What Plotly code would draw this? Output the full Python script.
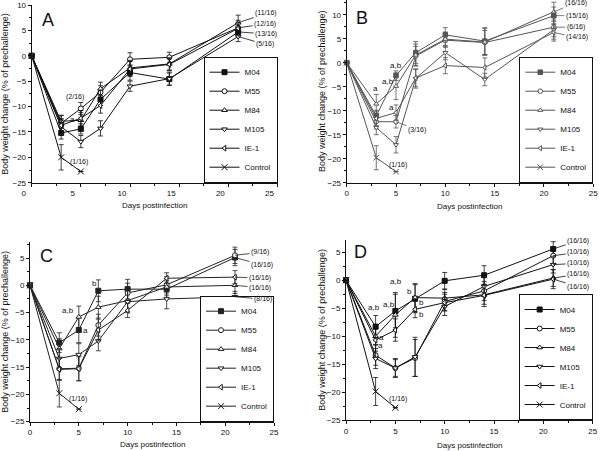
import plotly.graph_objects as go

# ---------------- data ----------------
days = [0, 3, 5, 7, 10, 14, 21]
control_days = [0, 3, 5]
series_names = ["M04", "M55", "M84", "M105", "IE-1", "Control"]

# Panel A
a_m04 = [0, -15.2, -14.4, -8.6, -3.3, -4.6, 4.7]
a_m55 = [0, -13.3, -10.4, -7.2, -0.7, -0.3, 5.5]
a_m84 = [0, -12.9, -12.7, -6.5, -2.4, -1.6, 6.5]
a_m105 = [0, -14.0, -16.9, -14.3, -6.0, -4.5, 3.8]
a_ie1 = [0, -13.7, -12.3, -9.8, -2.6, -1.7, 5.4]
a_ctrl = [0, -20.0, -22.8]
a_m04_e = [0, 1.2, 1.0, 1.2, 1.5, 1.2, 1.0]
a_m55_e = [0, 1.5, 1.2, 1.3, 1.3, 1.0, 1.5]
a_m84_e = [0, 1.2, 1.5, 1.3, 1.5, 1.2, 1.5]
a_m105_e = [0, 1.5, 1.2, 1.5, 1.0, 1.3, 1.0]
a_ie1_e = [0, 1.3, 1.5, 1.5, 1.5, 1.2, 1.2]
a_ctrl_e = [0, 2.5, 0]

# Panel B
b_m04 = [0, -11.1, -2.7, 2.1, 5.8, 4.5, 9.8]
b_m55 = [0, -12.3, -12.3, 1.4, 4.7, 4.2, 7.4]
b_m84 = [0, -8.6, -4.9, 1.6, 4.9, 4.3, 10.6]
b_m105 = [0, -13.5, -17.1, -3.3, 2.1, -3.5, 6.9]
b_ie1 = [0, -11.6, -10.4, -3.2, -0.6, -1.0, 6.3]
b_ctrl = [0, -19.8, -22.7]
b_m04_e = [0, 1.2, 1.0, 2.3, 1.5, 2.8, 1.8]
b_m55_e = [0, 1.5, 1.3, 2.0, 1.5, 2.5, 2.0]
b_m84_e = [0, 2.0, 2.8, 2.3, 1.5, 2.8, 2.0]
b_m105_e = [0, 1.5, 1.7, 2.0, 1.5, 1.3, 2.0]
b_ie1_e = [0, 1.5, 1.6, 1.8, 1.7, 2.0, 1.8]
b_ctrl_e = [0, 2.5, 0]

# Panel C
c_m04 = [0, -10.5, -8.2, -1.0, -0.7, -0.7, 5.1]
c_m55 = [0, -15.3, -15.2, -7.3, -1.4, 0.1, 5.5]
c_m84 = [0, -11.6, -5.8, -4.0, -2.8, -0.3, 0.0]
c_m105 = [0, -13.4, -12.7, -10.2, -3.0, -2.5, -2.1]
c_ie1 = [0, -15.4, -15.3, -8.2, -4.6, 1.3, 1.5]
c_ctrl = [0, -19.8, -22.7]
c_m04_e = [0, 1.8, 2.3, 2.0, 1.8, 1.5, 1.5]
c_m55_e = [0, 2.0, 2.3, 2.0, 1.8, 1.5, 1.5]
c_m84_e = [0, 1.8, 2.0, 2.0, 2.0, 1.5, 1.5]
c_m105_e = [0, 1.8, 2.0, 1.8, 2.0, 1.8, 1.0]
c_ie1_e = [0, 2.0, 2.2, 2.0, 1.3, 1.0, 1.2]
c_ctrl_e = [0, 2.5, 0]

# Panel D
d_m04 = [0, -8.3, -5.5, -3.3, -0.1, 0.9, 5.6]
d_m55 = [0, -13.4, -15.7, -13.9, -3.8, -1.9, 4.4]
d_m84 = [0, -10.0, -6.2, -3.1, -3.2, -2.6, 0.4]
d_m105 = [0, -14.0, -15.7, -13.7, -4.7, -1.1, 2.8]
d_ie1 = [0, -10.7, -8.9, -5.2, -4.0, -2.7, 0.2]
d_ctrl = [0, -19.9, -22.8]
d_m04_e = [0, 2.0, 3.0, 2.5, 1.5, 1.7, 1.3]
d_m55_e = [0, 1.8, 1.5, 3.3, 1.6, 1.7, 1.5]
d_m84_e = [0, 1.5, 4.0, 2.5, 1.6, 1.7, 1.5]
d_m105_e = [0, 1.8, 1.7, 3.5, 1.6, 1.8, 1.5]
d_ie1_e = [0, 2.0, 2.0, 1.5, 1.5, 2.0, 1.7]
d_ctrl_e = [0, 2.5, 0]

# survival labels at day 21 (text, value they point to)
a_surv = ["(11/16)", "(12/16)", "(13/16)", "(5/16)"]
a_surv_y = [6.5, 5.5, 4.7, 3.8]
b_surv = ["(16/16)", "(15/16)", "(6/16)", "(14/16)"]
b_surv_y = [10.6, 9.8, 7.4, 6.3]
c_surv = ["(9/16)", "(16/16)", "(16/16)", "(16/16)", "(8/16)"]
c_surv_y = [5.5, 5.1, 1.5, 0.0, -2.1]
d_surv = ["(16/16)", "(10/16)", "(10/16)", "(16/16)", "(16/16)"]
d_surv_y = [5.6, 4.4, 2.8, 0.4, 0.2]

# significance letters (text, day, value)
a_sig = ["a"]
a_sig_x = [4.2]
a_sig_y = [-12.6]
b_sig = ["a", "a,b", "a,b", "a"]
b_sig_x = [2.95, 4.97, 4.15, 4.56]
b_sig_y = [-5.3, -0.5, -3.95, -9.4]
c_sig = ["b", "a,b", "a"]
c_sig_x = [6.56, 3.93, 5.7]
c_sig_y = [0.25, -4.7, -8.3]
d_sig = ["a,b", "a,b", "a,b", "b", "b", "b", "a", "a"]
d_sig_x = [2.87, 4.39, 5.07, 6.48, 7.6, 7.6, 3.62, 3.52]
d_sig_y = [-4.9, -4.25, -0.25, -2.05, -4.0, -6.05, -10.2, -11.6]

x_title = "Days postinfection"
y_title = "Body weight change (% of prechallenge)"

# ---------------- styling ----------------
FONT = "Liberation Sans, Arial, sans-serif"
INK = "#111111"
W, H = 600, 451


def marker_styles(ink, ms):
    return {
        "M04": dict(symbol="square", color=ink, size=ms, line=dict(color=ink, width=1)),
        "M55": dict(symbol="circle", color="white", size=ms, line=dict(color=ink, width=1)),
        "M84": dict(symbol="triangle-up", color="white", size=ms, line=dict(color=ink, width=1)),
        "M105": dict(symbol="triangle-down", color="white", size=ms, line=dict(color=ink, width=1)),
        "IE-1": dict(symbol="triangle-left", color="white", size=ms, line=dict(color=ink, width=1)),
        "Control": dict(symbol="x-thin", color=ink, size=ms + 1, line=dict(color=ink, width=1)),
    }


panels = [
    dict(key="", letter="A", vals=[a_m04, a_m55, a_m84, a_m105, a_ie1, a_ctrl],
         errs=[a_m04_e, a_m55_e, a_m84_e, a_m105_e, a_ie1_e, a_ctrl_e],
         surv=a_surv, surv_y=a_surv_y, surv_ax=[28, 27, 28, 27], surv_ay=[-9.5, -4, 2, 8],
         sig=a_sig, sig_x=a_sig_x, sig_y=a_sig_y, ink=INK, ms=5,
         xdom=[0.0528, 0.4625], ydom=[0.5949, 0.9889], yr=[-25, 10], shift=-8,
         letter_pos=(0.066, 0.916), xt_y=205, yt_x=5,
         legend="legend", one16=(4.85, -20.9), extra=[("(2/16)", 4.4, -8.1)]),
    dict(key="2", letter="B", vals=[b_m04, b_m55, b_m84, b_m105, b_ie1, b_ctrl],
         errs=[b_m04_e, b_m55_e, b_m84_e, b_m105_e, b_ie1_e, b_ctrl_e],
         surv=b_surv, surv_y=b_surv_y, surv_ax=[22, 23, 22, 23], surv_ay=[-9, 0, 0, 5],
         sig=b_sig, sig_x=b_sig_x, sig_y=b_sig_y, ink="#555555", ms=4.5,
         xdom=[0.5778, 0.9888], ydom=[0.5949, 1.0], yr=[-25, 13.06], shift=0,
         letter_pos=(0.061, 0.9), xt_y=206, yt_x=322.7,
         legend="legend2", one16=(5.25, -21.4), extra=[]),
    dict(key="3", letter="C", vals=[c_m04, c_m55, c_m84, c_m105, c_ie1, c_ctrl],
         errs=[c_m04_e, c_m55_e, c_m84_e, c_m105_e, c_ie1_e, c_ctrl_e],
         surv=c_surv, surv_y=c_surv_y, surv_ax=[25, 27, 25, 25, 28], surv_ay=[-3, 7.5, 1, 2.4, 2.3],
         sig=c_sig, sig_x=c_sig_x, sig_y=c_sig_y, ink="#222222", ms=5,
         xdom=[0.05, 0.4567], ydom=[0.065, 0.4641], yr=[-25, 8], shift=0,
         letter_pos=(0.068, 0.918), xt_y=444, yt_x=5,
         legend="legend3", one16=(4.95, -20.9), extra=[]),
    dict(key="4", letter="D", vals=[d_m04, d_m55, d_m84, d_m105, d_ie1, d_ctrl],
         errs=[d_m04_e, d_m55_e, d_m84_e, d_m105_e, d_ie1_e, d_ctrl_e],
         surv=d_surv, surv_y=d_surv_y, surv_ax=[25, 25, 25, 25, 25], surv_ay=[-8.3, -3.4, -1.3, -3.7, 7.6],
         sig=d_sig, sig_x=d_sig_x, sig_y=d_sig_y, ink=INK, ms=5,
         xdom=[0.5767, 0.9878], ydom=[0.0687, 0.4678], yr=[-25, 7.2], shift=0,
         letter_pos=(0.057, 0.936), xt_y=445, yt_x=321.7,
         legend="legend4", one16=(5.3, -21.3), extra=[]),
]

fig = go.Figure()
annotations = []
layout = dict(
    width=W, height=H, margin=dict(l=0, r=0, t=0, b=0, autoexpand=False),
    paper_bgcolor="white", plot_bgcolor="white",
    font=dict(family=FONT, size=8, color=INK),
)

for p in panels:
    k = p["key"]
    xa, ya = "x" + k, "y" + k
    ms_map = marker_styles(p["ink"], p["ms"])
    for name, v, e in zip(series_names, p["vals"], p["errs"]):
        xs = control_days if name == "Control" else days
        fig.add_trace(go.Scatter(
            x=xs, y=v, name=name, mode="lines+markers",
            xaxis=xa, yaxis=ya, legend=p["legend"],
            line=dict(color=p["ink"], width=1),
            marker=ms_map[name],
            error_y=dict(type="data", array=e, visible=True, color=p["ink"], thickness=0.8, width=2.5),
            cliponaxis=False,
        ))
    layout["xaxis" + k] = dict(
        domain=p["xdom"], anchor=ya, range=[0, 25], tickmode="linear", tick0=0, dtick=5,
        ticks="outside", ticklen=3, tickcolor=INK, showline=True, linecolor=INK, linewidth=1,
        showgrid=False, zeroline=False, tickfont=dict(size=8, color=INK), ticklabelshift=p["shift"],
        minor=dict(dtick=2.5, ticks="outside", ticklen=2, tickcolor=INK),
        automargin=False,
    )
    layout["yaxis" + k] = dict(
        domain=p["ydom"], anchor=xa, range=p["yr"], tickmode="linear", tick0=0, dtick=5,
        ticks="outside", ticklen=3, tickcolor=INK, showline=True, linecolor=INK, linewidth=1,
        showgrid=False, zeroline=False, tickfont=dict(size=8, color=INK),
        minor=dict(dtick=2.5, ticks="outside", ticklen=2, tickcolor=INK),
        automargin=False,
    )
    layout[p["legend"]] = dict(
        x=p["xdom"][1], y=p["ydom"][0], xanchor="right", yanchor="bottom",
        xref="paper", yref="paper", bgcolor="white", bordercolor=INK, borderwidth=1,
        font=dict(size=8, color=INK), itemwidth=30, tracegroupgap=0,
    )
    # axis titles
    annotations.append(dict(text=x_title, xref="paper", yref="paper",
                            x=sum(p["xdom"]) / 2, y=1 - p["xt_y"] / H, showarrow=False,
                            xanchor="center", yanchor="middle", font=dict(size=8, color=INK)))
    annotations.append(dict(text=y_title, xref="paper", yref="paper", textangle=-90,
                            x=p["yt_x"] / W, y=sum(p["ydom"]) / 2, showarrow=False,
                            xanchor="center", yanchor="middle", font=dict(size=9, color=INK)))
    # panel letter
    annotations.append(dict(text=p["letter"], xref=xa + " domain", yref=ya + " domain",
                            x=p["letter_pos"][0], y=p["letter_pos"][1], showarrow=False,
                            font=dict(size=18, color=INK), xanchor="center", yanchor="middle"))
    # survival labels at day 21
    for t, yv, ax, ay in zip(p["surv"], p["surv_y"], p["surv_ax"], p["surv_ay"]):
        annotations.append(dict(text=t, x=21, y=yv, xref=xa, yref=ya, showarrow=True,
                                arrowhead=0, arrowwidth=0.8, arrowcolor=p["ink"], ax=ax, ay=ay,
                                font=dict(size=7, color=INK)))
    # significance letters
    for t, xv, yv in zip(p["sig"], p["sig_x"], p["sig_y"]):
        annotations.append(dict(text=t, x=xv, y=yv, xref=xa, yref=ya, showarrow=False,
                                font=dict(size=8, color=INK)))
    # (1/16) near control
    annotations.append(dict(text="(1/16)", x=p["one16"][0], y=p["one16"][1], xref=xa, yref=ya,
                            showarrow=False, font=dict(size=7, color=INK)))
    for t, xv, yv in p["extra"]:
        annotations.append(dict(text=t, x=xv, y=yv, xref=xa, yref=ya, showarrow=False,
                                font=dict(size=7, color=INK)))

# (3/16) label in B with leader line to M55 day 5
annotations.append(dict(text="(3/16)", x=5, y=b_m55[2], xref="x2", yref="y2", showarrow=True,
                        arrowhead=0, arrowwidth=0.8, arrowcolor="#555555", ax=21, ay=8,
                        font=dict(size=7, color=INK)))

layout["annotations"] = annotations
fig.update_layout(**layout)
fig.write_html("out.html", config={"displayModeBar": False},
               post_script="document.body.style.margin='0';document.body.style.overflow='hidden';")
